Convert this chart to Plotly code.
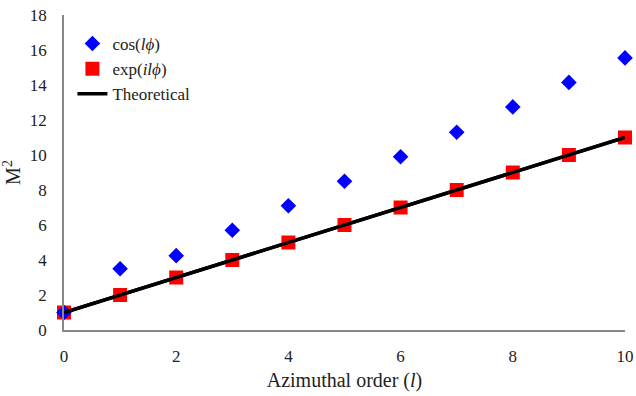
import plotly.graph_objects as go

l_vals = [0, 1, 2, 3, 4, 5, 6, 7, 8, 9, 10]
cos_m2 = [1.0, 3.5, 4.25, 5.7, 7.1, 8.5, 9.9, 11.3, 12.75, 14.15, 15.55]
exp_m2 = [1, 2, 3, 4, 5, 6, 7, 8, 9, 10, 11]
theory_x = [0, 10]
theory_y = [1, 11]

font = "Liberation Serif, Times New Roman, serif"

fig = go.Figure()
fig.add_trace(go.Scatter(x=theory_x, y=theory_y, mode="lines", name="Theoretical",
                         line=dict(color="black", width=3.5), legendrank=3))
fig.add_trace(go.Scatter(x=l_vals, y=exp_m2, mode="markers", name="exp(<i>il\u03d5</i>)",
                         marker=dict(symbol="square", size=14, color="#ff0000"), legendrank=2))
fig.add_trace(go.Scatter(x=l_vals, y=cos_m2, mode="markers", name="cos(<i>l\u03d5</i>)",
                         marker=dict(symbol="diamond", size=12, color="#0000ff"), legendrank=1))
# redraw theoretical line on top of squares
fig.add_trace(go.Scatter(x=theory_x, y=theory_y, mode="lines", showlegend=False,
                         line=dict(color="black", width=3.5), hoverinfo="skip"))

fig.update_layout(
    width=636, height=396,
    margin=dict(l=64, r=11, t=15, b=66, autoexpand=False),
    plot_bgcolor="white", paper_bgcolor="white",
    font=dict(family=font, size=17, color="#222"),
    showlegend=True,
    legend=dict(x=0.015, y=0.965, xanchor="left", yanchor="top",
                bgcolor="rgba(0,0,0,0)", font=dict(size=17), tracegroupgap=0,
                itemwidth=30),
    xaxis=dict(range=[0, 10], tickvals=[0, 2, 4, 6, 8, 10], showgrid=False, zeroline=False,
               showline=True, linecolor="#888", linewidth=1.5, ticks="", automargin=False,
               ticklabelstandoff=10,
               title=dict(text="Azimuthal order (<i>l</i>)", font=dict(size=20), standoff=8),
               tickfont=dict(size=17)),
    yaxis=dict(range=[0, 18], tickvals=list(range(0, 19, 2)), showgrid=False, zeroline=False,
               showline=True, linecolor="#888", linewidth=1.5, ticks="", automargin=False,
               ticklabelstandoff=12,
               title=dict(text="M<sup>2</sup>", font=dict(size=20), standoff=12),
               tickfont=dict(size=17)),
)
fig.update_traces(cliponaxis=False)
fig.write_html("out.html", config={"displayModeBar": False},
               post_script="document.body.style.margin='0';document.body.style.overflow='hidden';")
